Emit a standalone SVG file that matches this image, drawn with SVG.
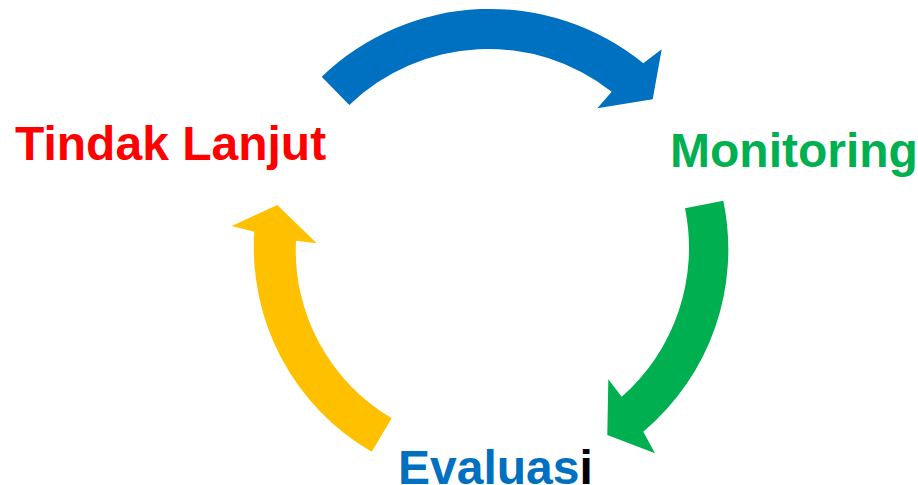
<svg xmlns="http://www.w3.org/2000/svg" width="918" height="485" viewBox="0 0 918 485">
<style>
.lbl{font-family:"Liberation Sans",Arial,sans-serif;font-weight:bold;font-size:48px}
</style>
<rect width="918" height="485" fill="#FFFFFF"/>
<g id="connectors">
<path id="arrow-blue" fill="#0070C0" d="M 321.7,76.7 A 243 243 0 0 1 643.3,63.3 L 661.7,49.3 L 652.7,99.3 L 597.3,108.3 L 611.7,91.7 A 200 200 0 0 0 349.3,105 Z"/>
<path id="arrow-green" fill="#00B050" d="M 685,208.3 L 723.3,200.7 A 238 238 0 0 1 643.3,431.7 L 655,453.3 L 607.3,435 L 608.3,379.3 L 621.7,396.7 A 198 198 0 0 0 685,208.3 Z"/>
<path id="arrow-yellow" fill="#FFC000" d="M 371.7,451.7 A 236 236 0 0 1 254.3,231.7 L 231.7,226 L 277.3,205 L 316.7,243.3 L 296,240.7 A 195 195 0 0 0 391.7,418.3 Z"/>
</g>
<g id="node-tindak-lanjut">
<text class="lbl" x="15" y="160" fill="#FF0000">Tindak Lanjut</text>
</g>
<g id="node-monitoring">
<text class="lbl" x="670" y="167" fill="#00B050">Monitoring</text>
</g>
<g id="node-evaluasi">
<text class="lbl" x="398" y="484" fill="#0070C0">Evaluas<tspan fill="#000000">i</tspan></text>
</g>
</svg>
